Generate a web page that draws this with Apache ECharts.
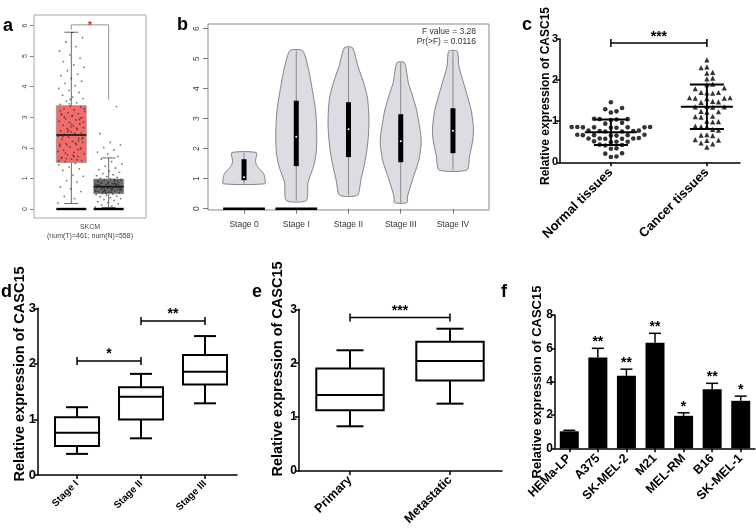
<!DOCTYPE html>
<html><head><meta charset="utf-8">
<script src="https://cdn.jsdelivr.net/npm/echarts@6/dist/echarts.min.js"></script>
<style>html,body{margin:0;padding:0;background:#fff}#c{width:756px;height:528px}</style>
</head><body><div id="c"></div>
<script>
// ---------------- DATA ----------------
// Panel a (GEPIA box plot, SKCM)
const aGroups = ['Tumor', 'Normal'];
const aYTicks = [0, 1, 2, 3, 4, 5, 6];
const aTumorBox = [0.18, 1.52, 2.42, 3.38, 5.78];   // min, q1, median, q3, max
const aNormalBox = [0.05, 0.50, 0.73, 0.98, 1.67];
const aTumorPts = [0.19,0.34,0.41,0.57,0.66,0.72,0.88,0.93,1.07,1.11,1.26,1.31,1.37,1.44,1.49,1.55,1.58,1.63,1.66,1.72,1.77,1.81,1.85,1.92,1.96,2.03,2.06,2.11,2.14,2.18,2.21,2.27,2.31,2.35,2.38,2.41,2.44,2.49,2.52,2.55,2.6,2.63,2.66,2.71,2.74,2.78,2.83,2.87,2.91,2.95,2.99,3.04,3.08,3.12,3.15,3.19,3.24,3.28,3.33,3.37,3.42,3.47,3.53,3.61,3.66,3.72,3.81,3.88,3.94,4.03,4.11,4.18,4.27,4.36,4.41,4.52,4.63,4.71,4.82,4.93,5.04,5.17,5.31,5.46,5.6,5.77,1.69,2.23,2.58,1.88,2.47,3.01,1.99,2.69,3.21,1.61,2.09,2.84,1.75,2.36,2.92,3.44,1.58,2.15,1.83,2.29,2.77,3.11,1.94,2.53,3.27,1.71,2.42,2.98,3.58,2.12,2.64,1.65,2.33,3.05];
const aNormalPts = [0.06,0.09,0.13,0.17,0.21,0.24,0.28,0.31,0.34,0.37,0.4,0.42,0.45,0.47,0.49,0.51,0.53,0.55,0.57,0.59,0.6,0.62,0.63,0.65,0.67,0.68,0.7,0.71,0.72,0.74,0.75,0.77,0.78,0.8,0.81,0.83,0.85,0.86,0.88,0.9,0.92,0.94,0.96,0.98,1.0,1.03,1.06,1.09,1.12,1.16,1.2,1.24,1.29,1.34,1.4,1.47,1.55,1.63,1.72,1.8,1.86,1.93,2.01,2.1,2.18,2.46,3.35,0.52,0.58,0.64,0.69,0.73,0.76,0.79,0.84,0.61,0.66,0.55,0.87,0.93,0.71,0.78,0.82,0.57,0.63,0.69,0.75,0.81,0.54,0.62,0.68,0.74,0.79,0.85,0.91,0.97,0.66,0.72];
const aBracket = [5.86, 6.02, 3.57]; // left end, top, right end
const aXLabel = ['SKCM', '(num(T)=461; num(N)=558)'];

// Panel b (violin plot by stage)
const bStages = ['Stage 0', 'Stage I', 'Stage II', 'Stage III', 'Stage IV'];
const bYTicks = [0, 1, 2, 3, 4, 5, 6];
const bLevels = [
  [0.83, 1.0, 1.15, 1.3, 1.45, 1.6, 1.87],
  [0.27, 0.87, 1.42, 1.85, 2.28, 2.8, 3.3, 4.0, 4.73, 5.27],
  [0.45, 0.95, 1.4, 1.85, 2.4, 2.87, 3.3, 3.73, 4.25, 4.73, 5.37],
  [0.2, 0.4, 0.96, 1.62, 2.18, 2.52, 3.29, 3.8, 4.18, 4.87],
  [1.29, 1.73, 2.29, 2.68, 3.29, 4.07, 4.73, 5.25]
];
const bDensity = [
  [1.0, 1.0, 0.95, 0.78, 0.6, 0.55, 0.59],
  [0.48, 0.56, 0.83, 0.95, 0.98, 0.97, 0.92, 0.76, 0.56, 0.3],
  [0.43, 0.59, 0.74, 0.86, 0.95, 0.98, 0.96, 0.9, 0.7, 0.46, 0.19],
  [0.3, 0.32, 0.56, 0.87, 0.98, 0.95, 0.76, 0.55, 0.37, 0.18],
  [0.67, 0.79, 0.95, 0.98, 0.87, 0.56, 0.29, 0.2]
];
const bQ1 = [0.95, 1.42, 1.72, 1.55, 1.85];
const bQ3 = [1.65, 3.6, 3.55, 3.15, 3.35];
const bMedian = [1.05, 2.4, 2.65, 2.25, 2.6];
const bZeroBar = [1, 1, 0, 0, 0];
const bStats = ['F value = 3.28', 'Pr(>F) = 0.0116'];

// Panel c (scatter dot plot)
const cGroups = ['Normal tissues', 'Cancer tissues'];
const cNormal = [1.46,1.32,1.29,1.24,1.21,1.06,1.05,1.04,1.05,1.03,0.96,0.94,0.86,0.85,0.85,0.84,0.86,0.85,0.84,0.86,0.85,0.76,0.77,0.75,0.76,0.77,0.75,0.66,0.67,0.65,0.66,0.66,0.67,0.65,0.58,0.57,0.59,0.58,0.57,0.58,0.5,0.51,0.49,0.5,0.42,0.43,0.41,0.34,0.33,0.22,0.21,0.14,0.13];
const cCancer = [2.49,2.32,2.3,2.19,2.17,2.05,2.03,1.9,1.89,1.81,1.79,1.7,1.69,1.68,1.7,1.57,1.56,1.55,1.57,1.56,1.48,1.47,1.46,1.36,1.35,1.34,1.35,1.24,1.23,1.22,1.12,1.11,1.1,1.0,0.99,0.98,0.88,0.87,0.86,0.8,0.78,0.67,0.66,0.65,0.55,0.54,0.53,0.47,0.45,0.37];
const cMean = [0.73, 1.35];
const cSD = [0.31, 0.54];
const cSig = [[0, 1, 2.9, '***']];

// Panel d (box plot by stage)
const dStages = ['Stage I', 'Stage II', 'Stage III'];
const dMin = [0.38, 0.66, 1.29];
const dQ1 = [0.52, 1.0, 1.63];
const dMed = [0.76, 1.41, 1.86];
const dQ3 = [1.04, 1.58, 2.16];
const dMax = [1.22, 1.82, 2.5];
const dSig = [[0, 1, 2.05, '*'], [1, 2, 2.77, '**']];

// Panel e (primary vs metastatic)
const eGroups = ['Primary', 'Metastatic'];
const eMin = [0.83, 1.25];
const eQ1 = [1.13, 1.68];
const eMed = [1.41, 2.04];
const eQ3 = [1.9, 2.4];
const eMax = [2.24, 2.64];
const eSig = [[0, 1, 2.85, '***']];

// Panel f (cell lines bar chart)
const fCells = ['HEMa-LP', 'A375', 'SK-MEL-2', 'M21', 'MEL-RM', 'B16', 'SK-MEL-1'];
const fMean = [1.02, 5.45, 4.35, 6.33, 1.95, 3.55, 2.85];
const fErr = [0.06, 0.55, 0.4, 0.57, 0.18, 0.35, 0.28];
const fSig = ['', '**', '**', '**', '*', '**', '*'];

const yTitle = 'Relative expression of CASC15';

// ---------------- HELPERS ----------------
const FONT = '"Liberation Sans", Arial, sans-serif';
const chart = echarts.init(document.getElementById('c'), null, {renderer: 'canvas', width: 756, height: 528});

const grids = [
  {left: 34, top: 15, width: 112, height: 203, show: true, borderColor: '#a8a8a8', borderWidth: 1},   // a
  {left: 208, top: 24, width: 281, height: 186, show: true, borderColor: '#8a8a8a', borderWidth: 1},  // b
  {left: 560, top: 39, width: 180, height: 123.3},  // c
  {left: 38, top: 308.3, width: 199, height: 166.7}, // d
  {left: 299, top: 309.3, width: 203, height: 162.4}, // e
  {left: 555, top: 315, width: 200, height: 133.3}  // f
];

const BLACK = '#000';
function gpY(grid, max, interval, fs) {
  return {type: 'value', gridIndex: grid, min: 0, max: max, interval: interval,
    axisLine: {show: true, onZero: false, lineStyle: {color: BLACK, width: 1.5}},
    axisTick: {show: true, length: 4, lineStyle: {color: BLACK, width: 1.5}},
    axisLabel: {color: BLACK, fontWeight: 'bold', fontSize: fs, fontFamily: FONT, margin: 2},
    splitLine: {show: false}};
}
function gpX(grid, min, max, names, fs, margin) {
  const vals = names.map((_, i) => i);
  return {type: 'value', gridIndex: grid, min: min, max: max,
    axisLine: {show: true, onZero: false, lineStyle: {color: BLACK, width: 1.5}},
    axisTick: {show: true, length: 4, customValues: vals, lineStyle: {color: BLACK, width: 1.5}},
    axisLabel: {customValues: vals, formatter: v => names[Math.round(v)], rotate: 45, color: BLACK,
      fontWeight: 'bold', fontSize: fs, fontFamily: FONT, margin: margin},
    splitLine: {show: false}};
}

// beeswarm layout: offsets in pixels -> axis units
function swarm(values, pxPerY, pxPerX, d) {
  const placed = [];
  const order = values.map((v, i) => i).sort((a, b) => values[a] - values[b]);
  const offs = new Array(values.length).fill(0);
  for (const i of order) {
    const v = values[i];
    for (let k = 0; k < 200; k++) {
      const off = (k % 2 === 1 ? 1 : -1) * Math.ceil(k / 2) * d;
      const ok = placed.every(p => {
        const dx = p.off - off, dy = (p.v - v) * pxPerY;
        return dx * dx + dy * dy >= d * d * 0.98;
      });
      if (ok) { offs[i] = off; placed.push({v: v, off: off}); break; }
    }
  }
  return offs.map(o => o / pxPerX);
}

function gpBoxSeries(gi, mins, q1s, meds, q3s, maxs, halfPx, capPx, lw) {
  return {type: 'custom', xAxisIndex: gi, yAxisIndex: gi, z: 3,
    data: mins.map((m, i) => [i, m, q1s[i], meds[i], q3s[i], maxs[i]]),
    renderItem: function (params, api) {
      const x = api.value(0);
      const p = [1, 2, 3, 4, 5].map(k => api.coord([x, api.value(k)]));
      const cx = p[0][0];
      const st = {stroke: BLACK, lineWidth: lw, fill: 'none'};
      return {type: 'group', children: [
        {type: 'line', shape: {x1: cx, y1: p[4][1], x2: cx, y2: p[3][1]}, style: st},
        {type: 'line', shape: {x1: cx, y1: p[1][1], x2: cx, y2: p[0][1]}, style: st},
        {type: 'line', shape: {x1: cx - capPx, y1: p[4][1], x2: cx + capPx, y2: p[4][1]}, style: st},
        {type: 'line', shape: {x1: cx - capPx, y1: p[0][1], x2: cx + capPx, y2: p[0][1]}, style: st},
        {type: 'rect', shape: {x: cx - halfPx, y: p[3][1], width: 2 * halfPx, height: p[1][1] - p[3][1]},
          style: {stroke: BLACK, lineWidth: lw, fill: '#fff'}},
        {type: 'line', shape: {x1: cx - halfPx, y1: p[2][1], x2: cx + halfPx, y2: p[2][1]}, style: st}
      ]};
    }};
}

function bracketSeries(gi, items, fs, textGap) {
  return {type: 'custom', xAxisIndex: gi, yAxisIndex: gi, z: 4,
    data: items.map(s => [s[0], s[1], s[2]]),
    renderItem: function (params, api) {
      const a = api.coord([api.value(0), api.value(2)]);
      const b = api.coord([api.value(1), api.value(2)]);
      const st = {stroke: BLACK, lineWidth: 1.5};
      return {type: 'group', children: [
        {type: 'line', shape: {x1: a[0], y1: a[1], x2: b[0], y2: b[1]}, style: st},
        {type: 'line', shape: {x1: a[0], y1: a[1] - 4, x2: a[0], y2: a[1] + 4}, style: st},
        {type: 'line', shape: {x1: b[0], y1: b[1] - 4, x2: b[0], y2: b[1] + 4}, style: st},
        {type: 'text', x: (a[0] + b[0]) / 2, y: a[1] - textGap,
          style: {text: items[params.dataIndex][3], fill: BLACK, font: 'bold ' + fs + 'px ' + FONT,
            textAlign: 'center', textVerticalAlign: 'middle'}}
      ]};
    }};
}

// ---------------- AXES ----------------
const xAxes = [
  {type: 'value', gridIndex: 0, min: 0, max: 3, axisLine: {show: false}, axisTick: {show: false}, splitLine: {show: false},
    axisLabel: {customValues: [1.5], formatter: () => aXLabel.join('\n'), color: '#444', fontSize: 7, lineHeight: 8.5, fontFamily: FONT, margin: 5}},
  {type: 'value', gridIndex: 1, min: -0.69, max: 4.69, axisLine: {show: false}, splitLine: {show: false},
    axisTick: {show: true, customValues: [0, 1, 2, 3, 4], length: 5, lineStyle: {color: '#777', width: 1}},
    axisLabel: {customValues: [0, 1, 2, 3, 4], formatter: v => bStages[Math.round(v)], color: '#333', fontSize: 8.5, fontFamily: FONT, margin: 10}},
  gpX(2, -0.53, 1.345, cGroups, 13, 8),
  gpX(3, -0.61, 2.5, dStages, 10, 7),
  gpX(4, -0.51, 1.52, eGroups, 12.5, 7),
  {type: 'category', gridIndex: 5, data: fCells,
    axisLine: {show: true, onZero: false, lineStyle: {color: BLACK, width: 1.5}},
    axisTick: {show: true, alignWithLabel: true, length: 4, lineStyle: {color: BLACK, width: 1.5}},
    axisLabel: {interval: 0, rotate: 45, color: BLACK, fontWeight: 'bold', fontSize: 12.5, fontFamily: FONT, margin: 8}}
];
const yAxes = [
  {type: 'value', gridIndex: 0, min: -0.294, max: 6.343, axisLine: {show: false, onZero: false}, splitLine: {show: false},
    axisTick: {show: true, customValues: aYTicks, length: 4, lineStyle: {color: '#888', width: 1}},
    axisLabel: {customValues: aYTicks, rotate: 90, color: '#444', fontSize: 7, fontFamily: FONT, margin: 5}},
  {type: 'value', gridIndex: 1, min: -0.043, max: 6.157, axisLine: {show: false, onZero: false}, splitLine: {show: false},
    axisTick: {show: true, customValues: bYTicks, length: 5, lineStyle: {color: '#777', width: 1}},
    axisLabel: {customValues: bYTicks, rotate: 90, color: '#444', fontSize: 8.5, fontFamily: FONT, margin: 7}},
  gpY(2, 3, 1, 11),
  gpY(3, 3, 1, 13),
  gpY(4, 3, 1, 12),
  gpY(5, 8, 2, 12)
];

// ---------------- SERIES ----------------
const series = [];

// a: boxes
const aBoxes = [aTumorBox, aNormalBox];
const aFill = ['#f26c6c', '#6c6c6c'];
series.push({type: 'custom', xAxisIndex: 0, yAxisIndex: 0, z: 2,
  data: aBoxes.map((b, i) => [i + 1].concat(b)),
  renderItem: function (params, api) {
    const x = api.value(0);
    const p = [1, 2, 3, 4, 5].map(k => api.coord([x, api.value(k)]));
    const z0 = api.coord([x, 0]);
    const cx = p[0][0], half = 15, cap = 7;
    const st = {stroke: '#444', lineWidth: 0.8};
    return {type: 'group', children: [
      {type: 'line', shape: {x1: cx, y1: p[4][1], x2: cx, y2: p[3][1]}, style: st},
      {type: 'line', shape: {x1: cx, y1: p[1][1], x2: cx, y2: p[0][1]}, style: st},
      {type: 'line', shape: {x1: cx - cap, y1: p[4][1], x2: cx + cap, y2: p[4][1]}, style: st},
      {type: 'line', shape: {x1: cx - cap, y1: p[0][1], x2: cx + cap, y2: p[0][1]}, style: st},
      {type: 'rect', shape: {x: cx - half, y: p[3][1], width: 2 * half, height: p[1][1] - p[3][1]},
        style: {fill: aFill[params.dataIndex], stroke: '#888', lineWidth: 0.6}},
      {type: 'line', shape: {x1: cx - half, y1: p[2][1], x2: cx + half, y2: p[2][1]}, style: {stroke: '#111', lineWidth: 1.6}},
      {type: 'line', shape: {x1: cx - half, y1: z0[1], x2: cx + half, y2: z0[1]}, style: {stroke: '#000', lineWidth: 2.4}}
    ]};
  }});
// a: jitter points (deterministic spread across box width)
[aTumorPts, aNormalPts].forEach((pts, g) => {
  series.push({type: 'scatter', xAxisIndex: 0, yAxisIndex: 0, z: 3, symbolSize: 1.8, silent: true,
    itemStyle: {color: 'rgba(30,30,30,0.75)'},
    data: pts.map((v, i) => [g + 1 + (((i * 0.6180339) % 1) - 0.5) * 0.72, v])});
});
// a: significance bracket
series.push({type: 'custom', xAxisIndex: 0, yAxisIndex: 0, z: 4, data: [[1, 2].concat(aBracket)],
  renderItem: function (params, api) {
    const l = api.coord([api.value(0), api.value(2)]);
    const lt = api.coord([api.value(0), api.value(3)]);
    const rt = api.coord([api.value(1), api.value(3)]);
    const r = api.coord([api.value(1), api.value(4)]);
    return {type: 'group', children: [
      {type: 'polyline', shape: {points: [l, lt, rt, r]}, style: {stroke: '#888', lineWidth: 0.9, fill: 'none'}},
      {type: 'text', x: (lt[0] + rt[0]) / 2, y: lt[1] + 1,
        style: {text: '*', fill: '#c0392b', font: 'bold 11px ' + FONT, textAlign: 'center', textVerticalAlign: 'middle'}}
    ]};
  }});

// b: violins
const VW = 0.4;
series.push({type: 'custom', xAxisIndex: 1, yAxisIndex: 1, z: 2,
  data: bStages.map((s, i) => [i, bQ1[i], bMedian[i], bQ3[i]]),
  renderItem: function (params, api) {
    const i = params.dataIndex;
    const lv = bLevels[i], wd = bDensity[i];
    const pts = [];
    for (let k = 0; k < lv.length; k++) pts.push(api.coord([i + wd[k] * VW, lv[k]]));
    for (let k = lv.length - 1; k >= 0; k--) pts.push(api.coord([i - wd[k] * VW, lv[k]]));
    const top = api.coord([i, lv[lv.length - 1]]), bot = api.coord([i, lv[0]]);
    const q1 = api.coord([i, api.value(1)]), md = api.coord([i, api.value(2)]), q3 = api.coord([i, api.value(3)]);
    const ch = [
      {type: 'polygon', shape: {points: pts, smooth: 0.22}, style: {fill: '#dcdce2', stroke: '#6a6a6a', lineWidth: 0.8}},
      {type: 'line', shape: {x1: top[0], y1: top[1], x2: bot[0], y2: bot[1]}, style: {stroke: '#8a8a8a', lineWidth: 1}},
      {type: 'rect', shape: {x: q1[0] - 2.5, y: q3[1], width: 5, height: q1[1] - q3[1]}, style: {fill: '#000'}},
      {type: 'circle', shape: {cx: md[0], cy: md[1], r: 1}, style: {fill: '#fff'}}
    ];
    if (bZeroBar[i]) {
      const a = api.coord([i - VW, 0]), b = api.coord([i + VW, 0]);
      ch.push({type: 'line', shape: {x1: a[0], y1: a[1], x2: b[0], y2: b[1]}, style: {stroke: '#000', lineWidth: 2.6}});
    }
    return {type: 'group', children: ch};
  }});

// c: scatter dot plot
const cPxY = 123.3 / 3, cPxX = 180 / 1.875;
const cNOff = swarm(cNormal, cPxY, cPxX, 5.6);
const cCOff = swarm(cCancer, cPxY, cPxX, 5.8);
series.push({type: 'scatter', xAxisIndex: 2, yAxisIndex: 2, z: 3, symbol: 'circle', symbolSize: 4.6,
  itemStyle: {color: '#000'}, data: cNormal.map((v, i) => [0 + cNOff[i], v])});
series.push({type: 'scatter', xAxisIndex: 2, yAxisIndex: 2, z: 3, symbol: 'triangle', symbolSize: 5.2,
  itemStyle: {color: '#000'}, data: cCancer.map((v, i) => [1 + cCOff[i], v])});
series.push({type: 'custom', xAxisIndex: 2, yAxisIndex: 2, z: 4,
  data: cMean.map((m, i) => [i, m, cSD[i]]),
  renderItem: function (params, api) {
    const x = api.value(0), m = api.value(1), s = api.value(2);
    const pm = api.coord([x, m]), pt = api.coord([x, m + s]), pb = api.coord([x, m - s]);
    const st = {stroke: '#000', lineWidth: 2};
    return {type: 'group', children: [
      {type: 'line', shape: {x1: pm[0] - 26, y1: pm[1], x2: pm[0] + 26, y2: pm[1]}, style: st},
      {type: 'line', shape: {x1: pm[0], y1: pt[1], x2: pm[0], y2: pb[1]}, style: st},
      {type: 'line', shape: {x1: pm[0] - 17, y1: pt[1], x2: pm[0] + 17, y2: pt[1]}, style: st},
      {type: 'line', shape: {x1: pm[0] - 17, y1: pb[1], x2: pm[0] + 17, y2: pb[1]}, style: st}
    ]};
  }});
series.push(bracketSeries(2, cSig, 14, 6));

// d, e: box plots
series.push(gpBoxSeries(3, dMin, dQ1, dMed, dQ3, dMax, 22, 11, 2));
series.push(bracketSeries(3, dSig, 14, 7));
series.push(gpBoxSeries(4, eMin, eQ1, eMed, eQ3, eMax, 33.7, 13.5, 2));
series.push(bracketSeries(4, eSig, 14, 6));

// f: bars with error bars and stars
series.push({type: 'bar', xAxisIndex: 5, yAxisIndex: 5, data: fMean, barWidth: 19, itemStyle: {color: '#000'}, z: 2});
series.push({type: 'custom', xAxisIndex: 5, yAxisIndex: 5, z: 3,
  data: fMean.map((m, i) => [i, m, m + fErr[i]]),
  renderItem: function (params, api) {
    const p1 = api.coord([api.value(0), api.value(1)]);
    const p2 = api.coord([api.value(0), api.value(2)]);
    const st = {stroke: '#000', lineWidth: 1.5};
    return {type: 'group', children: [
      {type: 'line', shape: {x1: p1[0], y1: p1[1], x2: p2[0], y2: p2[1]}, style: st},
      {type: 'line', shape: {x1: p2[0] - 6, y1: p2[1], x2: p2[0] + 6, y2: p2[1]}, style: st},
      {type: 'text', x: p2[0], y: p2[1] - 6,
        style: {text: fSig[params.dataIndex], fill: '#000', font: 'bold 14px ' + FONT, textAlign: 'center', textVerticalAlign: 'middle'}}
    ]};
  }});

// ---------------- TEXT ----------------
function letter(t, x, y) {
  return {type: 'text', x: x, y: y, style: {text: t, font: 'bold 18px ' + FONT, fill: '#000', textVerticalAlign: 'alphabetic'}};
}
function ytitle(x, y, fs) {
  return {type: 'text', x: x, y: y, rotation: Math.PI / 2,
    style: {text: yTitle, font: 'bold ' + fs + 'px ' + FONT, fill: '#000', textAlign: 'center', textVerticalAlign: 'middle'}};
}
const graphic = [
  letter('a', 3, 17), letter('b', 177, 16), letter('c', 522, 16),
  letter('d', 1, 283), letter('e', 252, 283), letter('f', 501, 283),
  ytitle(545.5, 96, 12), ytitle(19.5, 374, 14.5), ytitle(278, 369, 14.5), ytitle(537, 382, 13),
  {type: 'text', x: 476, y: 32, style: {text: bStats[0], font: '8.5px ' + FONT, fill: '#333', textAlign: 'right', textVerticalAlign: 'middle'}},
  {type: 'text', x: 476, y: 42, style: {text: bStats[1], font: '8.5px ' + FONT, fill: '#333', textAlign: 'right', textVerticalAlign: 'middle'}}
];

chart.setOption({
  animation: false,
  backgroundColor: '#fff',
  textStyle: {fontFamily: FONT},
  grid: grids,
  xAxis: xAxes,
  yAxis: yAxes,
  series: series,
  graphic: graphic
});
</script></body></html>
